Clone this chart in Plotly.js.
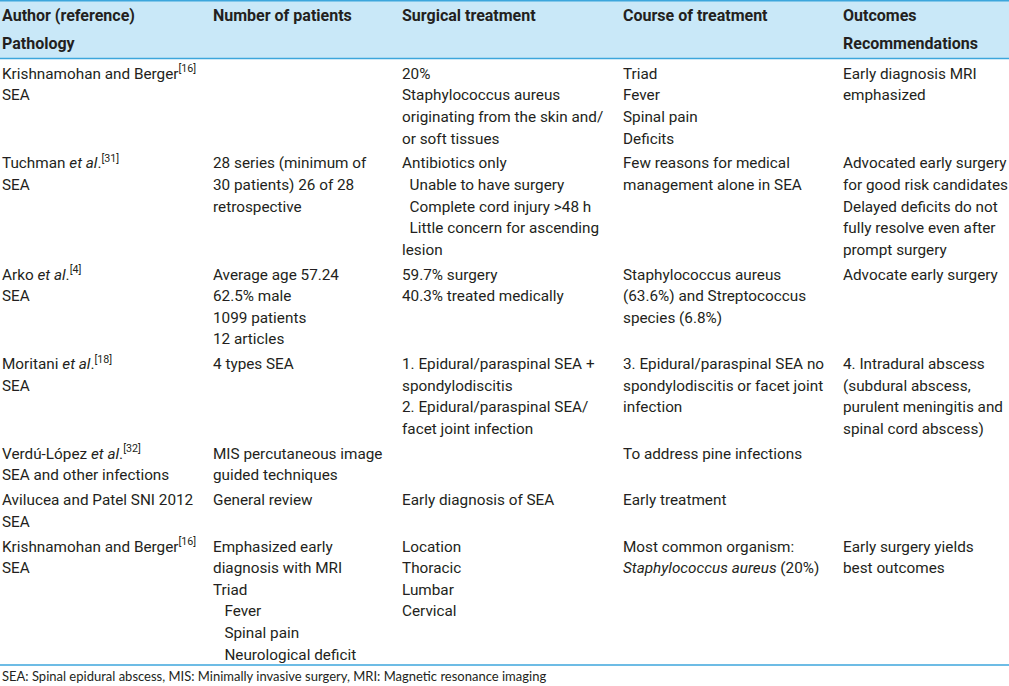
<!DOCTYPE html>
<html>
<head>
<meta charset="utf-8">
<script src="https://cdn.plot.ly/plotly-3.0.1.min.js"></script>
<style>
  html, body { margin: 0; padding: 0; background: #ffffff; }
  #chart { width: 1009px; height: 686px; }
</style>
</head>
<body>
<div id="chart"></div>
<script>
// ---------- DATA ----------
var headers = [
  "Author (reference)<br>Pathology",
  "Number of patients",
  "Surgical treatment",
  "Course of treatment",
  "Outcomes<br>Recommendations"
];

var authors = [
  "Krishnamohan and Berger<sup>[16]</sup><br>SEA",
  "Tuchman <i>et al</i>.<sup>[31]</sup><br>SEA",
  "Arko <i>et al</i>.<sup>[4]</sup><br>SEA",
  "Moritani <i>et al</i>.<sup>[18]</sup><br>SEA",
  "Verdú-López <i>et al</i>.<sup>[32]</sup><br>SEA and other infections",
  "Avilucea and Patel SNI 2012<br>SEA",
  "Krishnamohan and Berger<sup>[16]</sup><br>SEA"
];

var patients = [
  "",
  "28 series (minimum of<br>30 patients) 26 of 28<br>retrospective",
  "Average age 57.24<br>62.5% male<br>1099 patients<br>12 articles",
  "4 types SEA",
  "MIS percutaneous image<br>guided techniques",
  "General review",
  "Emphasized early<br>diagnosis with MRI<br>Triad<br>\u00a0\u00a0\u00a0Fever<br>\u00a0\u00a0\u00a0Spinal pain<br>\u00a0\u00a0\u00a0Neurological deficit"
];

var surgical = [
  "20%<br>Staphylococcus aureus<br>originating from the skin and/<br>or soft tissues",
  "Antibiotics only<br>\u00a0\u00a0Unable to have surgery<br>\u00a0\u00a0Complete cord injury &gt;48 h<br>\u00a0\u00a0Little concern for ascending<br>lesion",
  "59.7% surgery<br>40.3% treated medically",
  "1. Epidural/paraspinal SEA +<br>spondylodiscitis<br>2. Epidural/paraspinal SEA/<br>facet joint infection",
  "",
  "Early diagnosis of SEA",
  "Location<br>Thoracic<br>Lumbar<br>Cervical"
];

var course = [
  "Triad<br>Fever<br>Spinal pain<br>Deficits",
  "Few reasons for medical<br>management alone in SEA",
  "Staphylococcus aureus<br>(63.6%) and Streptococcus<br>species (6.8%)",
  "3. Epidural/paraspinal SEA no<br>spondylodiscitis or facet joint<br>infection",
  "To address pine infections",
  "Early treatment",
  "Most common organism:<br><i>Staphylococcus aureus</i> (20%)"
];

var outcomes = [
  "Early diagnosis MRI<br>emphasized",
  "Advocated early surgery<br>for good risk candidates<br>Delayed deficits do not<br>fully resolve even after<br>prompt surgery",
  "Advocate early surgery",
  "4. Intradural abscess<br>(subdural abscess,<br>purulent meningitis and<br>spinal cord abscess)",
  "",
  "",
  "Early surgery yields<br>best outcomes"
];

var footnote = "SEA: Spinal epidural abscess, MIS: Minimally invasive surgery, MRI: Magnetic resonance imaging";

// ---------- LAYOUT CONSTANTS (table geometry, like columnwidth) ----------
var W = 1009, H = 686;
var columnWidths = [211, 189, 221, 220, 168];
var colLeft0 = 2;
var headerLineY = [17, 45];
var bodyTop = 75;       // first text line center of body
var linePitch = 21.6;
var rowGap = 3.2;
var headerBottom = 58.5;
var tableBottom = 665;
var footY = 678;

var textColor = "#231f20";
var blue = "#3ca6dc";
var headerFill = "#c9e8f8";

// ---------- BUILD ----------
var columns = [authors, patients, surgical, course, outcomes];
var colX = [];
var acc = colLeft0;
for (var c = 0; c < columnWidths.length; c++) { colX.push(acc); acc += columnWidths[c]; }

function lines(s) { return s === "" ? [] : s.split("<br>"); }

var nRows = authors.length;
var rowLines = [];
for (var r = 0; r < nRows; r++) {
  var m = 1;
  for (var c = 0; c < columns.length; c++) m = Math.max(m, lines(columns[c][r]).length);
  rowLines.push(m);
}
var rowStart = [];
var y = bodyTop;
for (var r = 0; r < nRows; r++) { rowStart.push(y); y += rowLines[r] * linePitch + rowGap; }

var bx = [], by = [], bt = [];
for (var c = 0; c < columns.length; c++) {
  for (var r = 0; r < nRows; r++) {
    var ls = lines(columns[c][r]);
    for (var i = 0; i < ls.length; i++) {
      bx.push(colX[c]); by.push(rowStart[r] + i * linePitch); bt.push(ls[i]);
    }
  }
}

var hx = [], hy = [], ht = [];
for (var c = 0; c < headers.length; c++) {
  var ls = lines(headers[c]);
  for (var i = 0; i < ls.length; i++) {
    hx.push(colX[c]); hy.push(headerLineY[i]); ht.push("<b>" + ls[i] + "</b>");
  }
}

var traces = [
  {
    type: "scatter", mode: "text", x: hx, y: hy, text: ht,
    textposition: "middle right", hoverinfo: "skip", showlegend: false,
    textfont: { family: "Roboto, Arial, sans-serif", size: 16, color: textColor }
  },
  {
    type: "scatter", mode: "text", x: bx, y: by, text: bt,
    textposition: "middle right", hoverinfo: "skip", showlegend: false,
    textfont: { family: "Roboto, Arial, sans-serif", size: 15.3, color: textColor }
  },
  {
    type: "scatter", mode: "text", x: [colLeft0], y: [footY], text: [footnote],
    textposition: "middle right", hoverinfo: "skip", showlegend: false,
    textfont: { family: "Lato, 'Open Sans', sans-serif", size: 13, color: textColor }
  }
];

var layout = {
  width: W, height: H,
  margin: { l: 0, r: 0, t: 0, b: 0, pad: 0 },
  paper_bgcolor: "#ffffff", plot_bgcolor: "#ffffff",
  showlegend: false,
  xaxis: { range: [0, W], visible: false, fixedrange: true },
  yaxis: { range: [H, 0], visible: false, fixedrange: true },
  shapes: [
    { type: "rect", xref: "x", yref: "y", x0: 0, x1: W, y0: 0, y1: headerBottom,
      fillcolor: headerFill, line: { width: 0 }, layer: "below" },
    { type: "line", xref: "x", yref: "y", x0: 0, x1: W, y0: 0.75, y1: 0.75,
      line: { color: blue, width: 1.5 } },
    { type: "line", xref: "x", yref: "y", x0: 0, x1: W, y0: headerBottom, y1: headerBottom,
      line: { color: blue, width: 1.5 } },
    { type: "line", xref: "x", yref: "y", x0: 0, x1: W, y0: tableBottom, y1: tableBottom,
      line: { color: blue, width: 1.5 } }
  ]
};

Plotly.newPlot("chart", traces, layout, { displayModeBar: false, staticPlot: true });
</script>
</body>
</html>
